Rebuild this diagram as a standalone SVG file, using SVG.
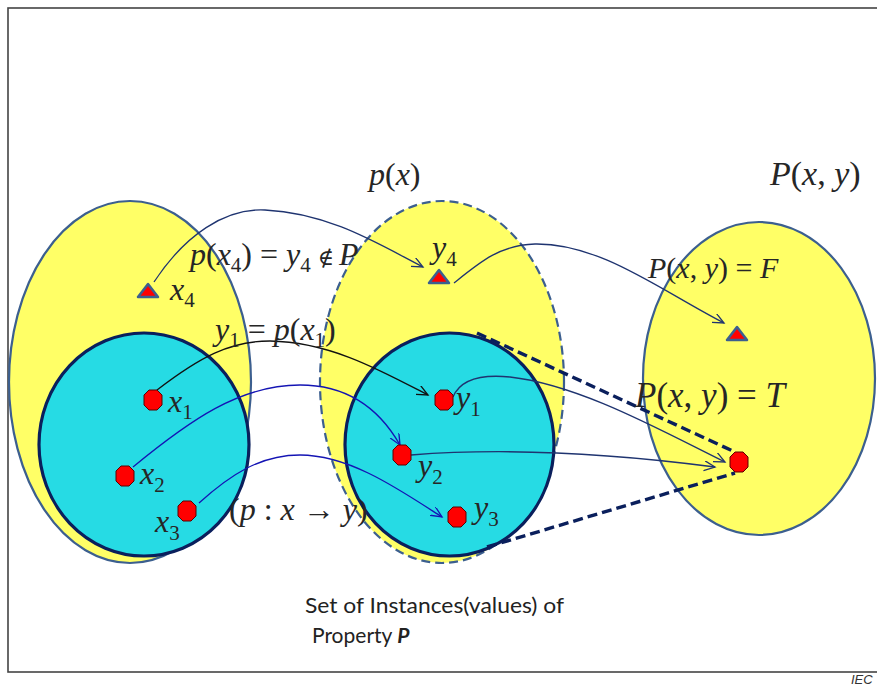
<svg xmlns="http://www.w3.org/2000/svg" width="877" height="687" viewBox="0 0 877 687">
<defs>
<style>
.yel{fill:#ffff66;stroke:#3c5f8f;stroke-width:2.2}
.dash{stroke-dasharray:9 5}
.cyan{fill:#26dbe4;stroke:#0a1f5c;stroke-width:3.2}
.oct{fill:#ff0000;stroke:#5a0000;stroke-width:1}
.tri{fill:#ff0000;stroke:#3c5f8f;stroke-width:2.5;stroke-linejoin:round}
.c{fill:none;stroke-width:1.3}
.navy{stroke:#1f3470}
.blk{stroke:#111}
.blue{stroke:#1414b4}
.thick{fill:none;stroke:#0a1f5c;stroke-width:3.4;stroke-dasharray:10 5}
.m{font-family:"Liberation Serif","Times New Roman",serif;fill:#262626;font-size:32px}
.i{font-style:italic}
.s{font-size:21px}
.lbl{font-family:"Lato","Open Sans","Liberation Sans",sans-serif;font-size:21px;fill:#222}
</style>
<polygon id="octa" points="-4,-10 4,-10 9,-5 9,5 4,10 -4,10 -9,5 -9,-5"/>
<polygon id="trig" points="0,-8 10,5 -10,5"/>
<marker id="aN" markerUnits="userSpaceOnUse" markerWidth="14" markerHeight="12" refX="11" refY="5" orient="auto"><path d="M0,0 L11,5 L0,10" fill="none" stroke="#1f3470" stroke-width="1.3"/></marker>
<marker id="aK" markerUnits="userSpaceOnUse" markerWidth="14" markerHeight="12" refX="11" refY="5" orient="auto"><path d="M0,0 L11,5 L0,10" fill="none" stroke="#111" stroke-width="1.3"/></marker>
<marker id="aB" markerUnits="userSpaceOnUse" markerWidth="14" markerHeight="12" refX="11" refY="5" orient="auto"><path d="M0,0 L11,5 L0,10" fill="none" stroke="#1414b4" stroke-width="1.3"/></marker>
</defs>
<rect x="8" y="8" width="900" height="664" fill="none" stroke="#444" stroke-width="1.6"/>

<g id="setX">
<ellipse class="yel" cx="130" cy="382" rx="121" ry="181"/>
<ellipse class="cyan" cx="144" cy="444.5" rx="105" ry="111.5"/>
</g>
<g id="setPx">
<ellipse class="yel dash" cx="442" cy="382" rx="122" ry="181"/>
<ellipse class="cyan" cx="449.5" cy="444.5" rx="104.5" ry="111.5"/>
</g>
<g id="setP">
<ellipse class="yel" cx="759" cy="378.5" rx="116" ry="156.5"/>
</g>

<g id="connectors">
<path class="thick" d="M477,333 L735,452"/>
<path class="thick" d="M487,547 L735,473"/>
<path class="c navy" marker-end="url(#aN)" d="M154,282 C185,235 225,208 265,210 C330,213 380,245 423,267"/>
<path class="c navy" marker-end="url(#aN)" d="M454,283 C480,262 500,245 535,244 C600,243 660,290 724,323"/>
<path class="c blk" marker-end="url(#aK)" d="M157,390 C200,357 230,341 270,341 C330,342 380,370 428,395"/>
<path class="c blue" marker-end="url(#aB)" d="M133,467 C190,420 240,385 300,385 C350,385 380,410 400,445"/>
<path class="c blue" marker-end="url(#aB)" d="M199,503 C230,475 260,455 300,455 C350,455 400,490 442,517"/>
<path class="c navy" marker-end="url(#aN)" d="M453,397 C460,380 480,374 510,377 C580,385 660,430 725,462"/>
<path class="c navy" marker-end="url(#aN)" d="M411,455 C500,448 600,452 715,467"/>
</g>

<g id="nodes">
<g id="x4"><use href="#trig" class="tri" x="148" y="292"/></g>
<g id="y4"><use href="#trig" class="tri" x="439" y="278"/></g>
<g id="pF"><use href="#trig" class="tri" x="737" y="335"/></g>
<g id="x1"><use href="#octa" class="oct" x="153" y="400"/></g>
<g id="x2"><use href="#octa" class="oct" x="125" y="476"/></g>
<g id="x3"><use href="#octa" class="oct" x="187" y="511"/></g>
<g id="y1"><use href="#octa" class="oct" x="444" y="400"/></g>
<g id="y2"><use href="#octa" class="oct" x="402" y="455"/></g>
<g id="y3"><use href="#octa" class="oct" x="457" y="517"/></g>
<g id="pT"><use href="#octa" class="oct" x="739" y="462"/></g>
</g>

<g id="labels">
<text class="m" x="369" y="185"><tspan class="i">p</tspan>(<tspan class="i">x</tspan>)</text>
<text class="m" x="770" y="185" style="font-size:34px"><tspan class="i">P</tspan>(<tspan class="i">x</tspan>, <tspan class="i">y</tspan>)</text>
<text class="m" x="190" y="265"><tspan class="i">p</tspan>(<tspan class="i">x</tspan><tspan class="s" dy="7">4</tspan><tspan dy="-7">) = </tspan><tspan class="i">y</tspan><tspan class="s" dy="7">4</tspan><tspan dy="-7" dx="7" style="font-family:'DejaVu Serif',serif;font-size:22px">∉</tspan><tspan class="i" dx="5">P</tspan></text>
<text class="m" x="170" y="300"><tspan class="i">x</tspan><tspan class="s" dy="7">4</tspan></text>
<text class="m" x="432" y="258"><tspan class="i">y</tspan><tspan class="s" dy="8">4</tspan></text>
<text class="m" x="215" y="340"><tspan class="i">y</tspan><tspan class="s" dy="7">1</tspan><tspan dy="-7"> = </tspan><tspan class="i">p</tspan>(<tspan class="i">x</tspan><tspan class="s" dy="7">1</tspan><tspan dy="-7">)</tspan></text>
<text class="m" x="168" y="412"><tspan class="i">x</tspan><tspan class="s" dy="7">1</tspan></text>
<text class="m" x="140" y="484"><tspan class="i">x</tspan><tspan class="s" dy="8">2</tspan></text>
<text class="m" x="155" y="532"><tspan class="i">x</tspan><tspan class="s" dy="8">3</tspan></text>
<text class="m" x="229" y="520">(<tspan class="i">p</tspan> : <tspan class="i">x</tspan> → <tspan class="i">y</tspan>)</text>
<text class="m" x="456" y="408"><tspan class="i">y</tspan><tspan class="s" dy="8">1</tspan></text>
<text class="m" x="418" y="476"><tspan class="i">y</tspan><tspan class="s" dy="8">2</tspan></text>
<text class="m" x="474" y="518"><tspan class="i">y</tspan><tspan class="s" dy="8">3</tspan></text>
<text class="m" x="648" y="278" style="font-size:30px"><tspan class="i">P</tspan>(<tspan class="i">x</tspan>, <tspan class="i">y</tspan>) = <tspan class="i">F</tspan></text>
<text class="m" x="635" y="407" style="font-size:35px"><tspan class="i">P</tspan>(<tspan class="i">x</tspan>, <tspan class="i">y</tspan>) = <tspan class="i">T</tspan></text>
<text class="lbl" x="305" y="613" textLength="259" lengthAdjust="spacingAndGlyphs">Set of Instances(values) of</text>
<text class="lbl" x="312" y="643">Property <tspan font-weight="bold" font-style="italic">P</tspan></text>
<text x="851" y="684" style="font-family:'Liberation Sans',sans-serif;font-size:13px;font-style:italic;fill:#333">IEC</text>
</g>
</svg>
